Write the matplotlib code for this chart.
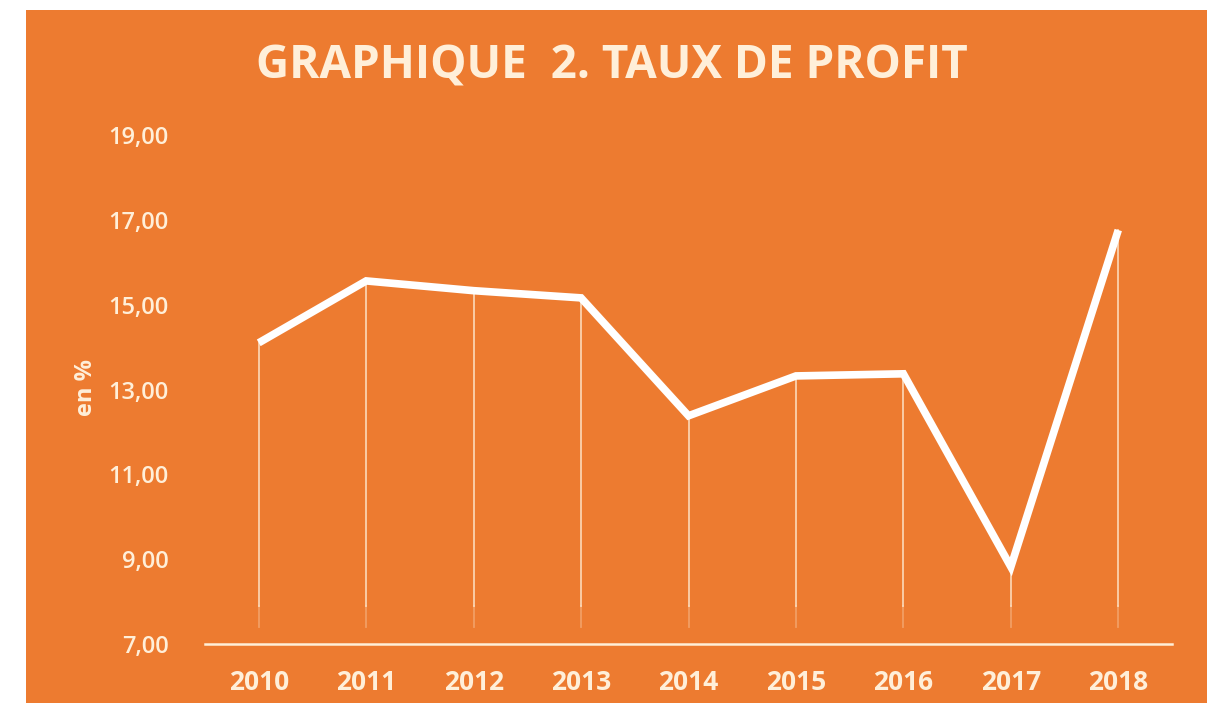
import matplotlib; matplotlib.use("Agg")
import matplotlib.pyplot as plt
from matplotlib.patches import Rectangle

ORANGE = "#ED7B30"; CREAM = "#FFEFD9"

years = ["2010", "2011", "2012", "2013", "2014", "2015", "2016", "2017", "2018"]
taux = [14.10, 15.56, 15.33, 15.16, 12.38, 13.32, 13.37, 8.82, 16.76]
yticks = [7, 9, 11, 13, 15, 17, 19]

fig = plt.figure(figsize=(12.07, 7.03), dpi=100)
fig.patch.set_facecolor("white")
# orange card, with a thin white margin top / left
fig.patches.append(Rectangle((26/1207, 0), 1 - 26/1207, 693/703, transform=fig.transFigure,
                             fc=ORANGE, ec="none", zorder=-10))

ax = fig.add_axes([205/1207, 59/703, (1172-205)/1207, (644-135)/703])
ax.set_facecolor("none")
x = list(range(len(years)))

# drop lines from each point down to just above the axis
for xi, v in zip(x, taux):
    ax.plot([xi, xi], [7.9, v], color=CREAM, lw=1.3, alpha=0.75, zorder=2)
    ax.plot([xi, xi], [7.4, 7.9], color=CREAM, lw=1.3, alpha=0.3, zorder=2)

ax.plot(x, taux, color="white", lw=5.5, solid_joinstyle="miter", solid_capstyle="butt", zorder=3)

ax.set_xlim(-0.5, len(years) - 0.5)
ax.set_ylim(7, 19)
ax.set_xticks(x)
ax.set_xticklabels(years, fontsize=19, fontweight="bold", color=CREAM, family="Open Sans")
ax.set_yticks(yticks)
ax.set_yticklabels([f"{t:.2f}".replace(".", ",") for t in yticks], fontsize=17,
                   fontweight="semibold", color=CREAM, family="Open Sans")
ax.tick_params(length=0)
ax.tick_params(axis="x", pad=18)
ax.tick_params(axis="y", pad=26)
for s in ["top", "right", "left"]:
    ax.spines[s].set_visible(False)
ax.spines["bottom"].set_color(CREAM)
ax.spines["bottom"].set_linewidth(1.8)

fig.text(86/1207, 1 - 388/703, "en %", rotation=90, ha="center", va="center",
         fontsize=17, fontweight="bold", color=CREAM, family="Open Sans")
fig.text(612/1207, 1 - 66/703, "GRAPHIQUE  2. TAUX DE PROFIT", ha="center", va="center",
         fontsize=33, fontweight="bold", color=CREAM, family="Open Sans")

fig.savefig("out.png", dpi=100)
